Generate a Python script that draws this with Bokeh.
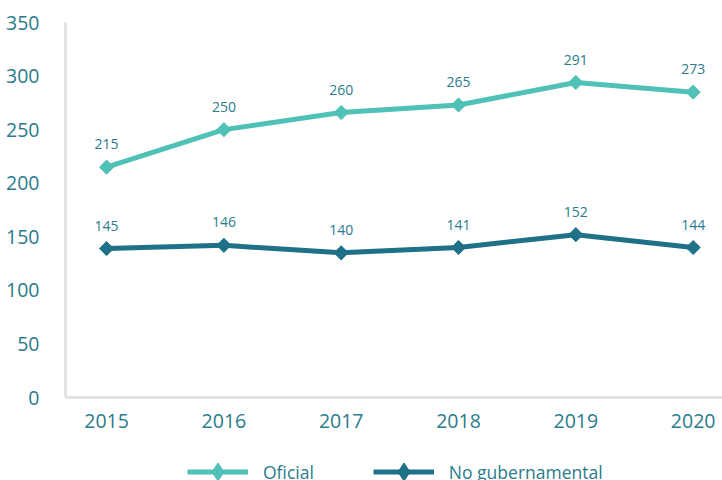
from bokeh.plotting import figure
from bokeh.models import FixedTicker, Legend, LegendItem, ColumnDataSource, Range1d
from bokeh.layouts import column
from bokeh.core.properties import value
from bokeh.embed import file_html
from bokeh.resources import INLINE

years = [2015, 2016, 2017, 2018, 2019, 2020]
oficial = [215, 250, 266, 273, 294, 285]
oficial_labels = ["215", "250", "260", "265", "291", "273"]
nogub = [139, 142, 135, 140, 152, 140]
nogub_labels = ["145", "146", "140", "141", "152", "144"]
y_ticks = [0, 50, 100, 150, 200, 250, 300, 350]
series_names = ["Oficial", "No gubernamental"]

C_LIGHT = "#4FC1B6"
C_DARK = "#1E7187"
C_TEXT = "#2A7B8C"
FONT = "Open Sans"

p = figure(width=722, height=447, output_backend="svg", toolbar_location=None,
           x_range=Range1d(2014.65, 2020.25), y_range=Range1d(0, 350),
           min_border_left=65, min_border_right=0, min_border_top=22, min_border_bottom=50)
p.outline_line_color = None
p.xgrid.visible = False
p.ygrid.visible = False

for ax in (p.xaxis[0], p.yaxis[0]):
    ax.axis_line_color = "#E2E2E2"
    ax.axis_line_width = 3
    ax.major_tick_line_color = None
    ax.minor_tick_line_color = None
    ax.major_label_text_font = FONT
    ax.major_label_text_font_size = "19.5px"
    ax.major_label_text_color = C_TEXT
p.xaxis.ticker = FixedTicker(ticks=years)
p.xaxis.major_label_standoff = 10
p.yaxis.ticker = FixedTicker(ticks=y_ticks)
p.yaxis.major_label_standoff = 20

src1 = ColumnDataSource(dict(x=years, y=oficial, t=oficial_labels))
src2 = ColumnDataSource(dict(x=years, y=nogub, t=nogub_labels))

for src, col in ((src1, C_LIGHT), (src2, C_DARK)):
    p.line("x", "y", source=src, line_color=col, line_width=5)
    p.scatter("x", "y", source=src, marker="square", size=10, angle=0.785398,
              fill_color=col, line_color=col)
    p.text("x", "y", text="t", source=src, y_offset=-23, text_align="center",
           text_baseline="middle", text_font=value(FONT), text_font_size="14px",
           text_color=C_TEXT)

# legend strip below the chart
q = figure(width=722, height=33, output_backend="svg", toolbar_location=None,
           x_range=Range1d(0, 1), y_range=Range1d(0, 1),
           min_border_left=65, min_border_right=0, min_border_top=0, min_border_bottom=0)
q.axis.visible = False
q.grid.visible = False
q.outline_line_color = None

items = []
for col, name in ((C_LIGHT, series_names[0]), (C_DARK, series_names[1])):
    l = q.line(x=[-5, -4], y=[-5, -4], line_color=col, line_width=5)
    s = q.scatter(x=[-5], y=[-5], marker="diamond", size=17,
                  fill_color=col, line_color=col)
    items.append(LegendItem(label=name, renderers=[l, s]))

legend = Legend(items=items, orientation="horizontal", location=(122, -14),
                padding=0, margin=0, spacing=59, label_standoff=15,
                glyph_width=61, glyph_height=45, label_height=45,
                label_text_font=FONT, label_text_font_size="17.5px",
                label_text_color=C_TEXT, background_fill_alpha=0,
                border_line_color=None)
q.add_layout(legend)

layout = column(p, q, spacing=0)
open("out.html", "w").write(file_html(layout, INLINE))
